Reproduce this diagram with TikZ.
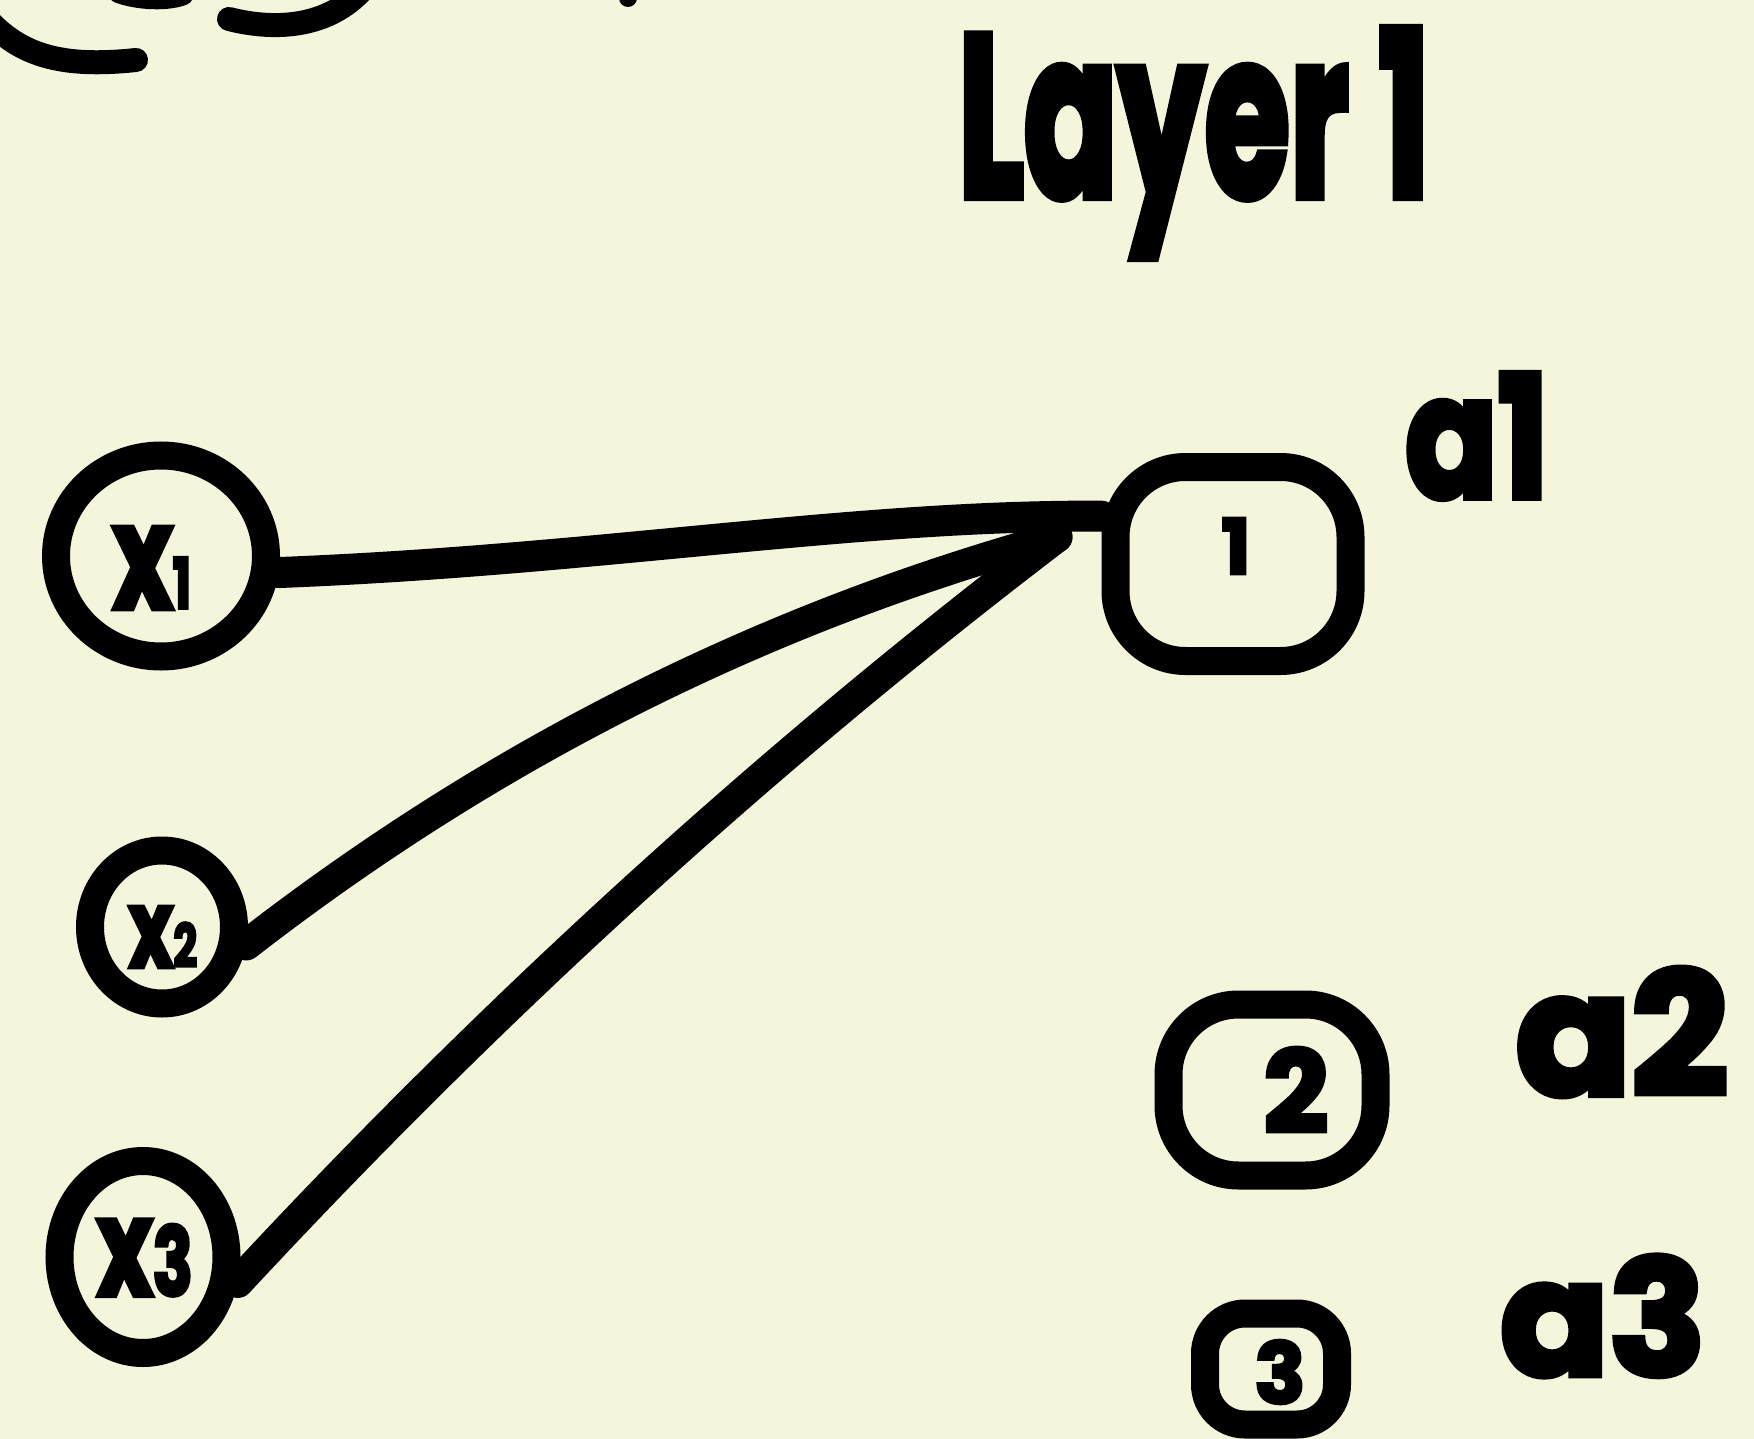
\documentclass[tikz,border=0pt]{standalone}
\usepackage{fontspec}
\usepackage{graphicx}
\setmainfont{Poppins}[BoldFeatures={FakeBold=4}]
\usetikzlibrary{shapes.geometric}
\definecolor{paper}{HTML}{F5F5DC}
\tikzset{
  ink/.style={draw=black, line width=31pt, line cap=round, line join=round},
  neuron/.style={ellipse, draw=black, line width=28pt, inner sep=0pt},
  blob/.style={rectangle, rounded corners=70pt, draw=black, line width=28pt, inner sep=0pt},
  hand/.style={font=\bfseries\fontsize{#1}{#1}\selectfont, inner sep=0pt},
}
\newcommand{\sm}[2]{{\fontsize{#1}{#1}\selectfont #2}}
\begin{document}
\begin{tikzpicture}[x=1pt,y=-1pt]
\fill[paper] (0,0) rectangle (1754,1439);
\useasboundingbox (0,0) rectangle (1754,1439);

% partial strokes at the top-left edge
\draw[ink, line width=24pt] (-14,18) .. controls (20,55) and (60,68) .. (136,60);
\draw[ink, line width=18pt] (118,-6) .. controls (140,2) and (170,2) .. (184,-4);
\draw[ink, line width=24pt] (229,19) .. controls (280,32) and (330,25) .. (362,-10);
\fill (628,-2) circle (9pt);

% title
\node[hand=230pt] (title) at (1194,143) {\scalebox{0.6}[1]{Layer 1}};

% inputs
\node[neuron, minimum width=210pt, minimum height=201pt] (x1) at (161,556) {};
\node[neuron, minimum width=144pt, minimum height=153pt] (x2) at (162,927) {};
\node[neuron, minimum width=167pt, minimum height=192pt] (x3) at (143,1257) {};
\node[hand=145pt] (x1t) at (152,568) {\scalebox{0.7}[1]{x\sm{70pt}{1}}};
\node[hand=108pt] (x2t) at (163,937) {\scalebox{0.7}[1]{x\sm{60pt}{2}}};
\node[hand=135pt] (x3t) at (145,1258) {\scalebox{0.7}[1]{x\sm{95pt}{3}}};

% layer nodes
\node[blob, minimum width=235pt, minimum height=194pt] (n1) at (1233,564) {};
\node[blob, minimum width=207pt, minimum height=171pt] (n2) at (1272,1090) {};
\node[blob, rounded corners=40pt, minimum width=132pt, minimum height=111pt] (n3) at (1271,1369) {};
\node[hand=76pt] (n1t) at (1236,546) {1};
\node[hand=113pt] (n2t) at (1296,1090) {2};
\node[hand=84pt] (n3t) at (1280,1372) {3};

% labels
\node[hand=170pt] (a1) at (1477,436) {\scalebox{0.8}[1]{a1}};
\node[hand=170pt] (a2) at (1622,1032) {a2};
\node[hand=160pt] (a3) at (1603,1316) {a3};

% connections
\coordinate (hub) at (1057,537);
\draw[ink] (x1.-8) .. controls (600,560) and (850,515) .. (n1.160);
\draw[ink] (x2.-12) .. controls (491,755) and (760,619) .. (hub);
\draw[ink] (x3.-15) .. controls (488,1013) and (759,764) .. (hub);
\end{tikzpicture}
\end{document}
